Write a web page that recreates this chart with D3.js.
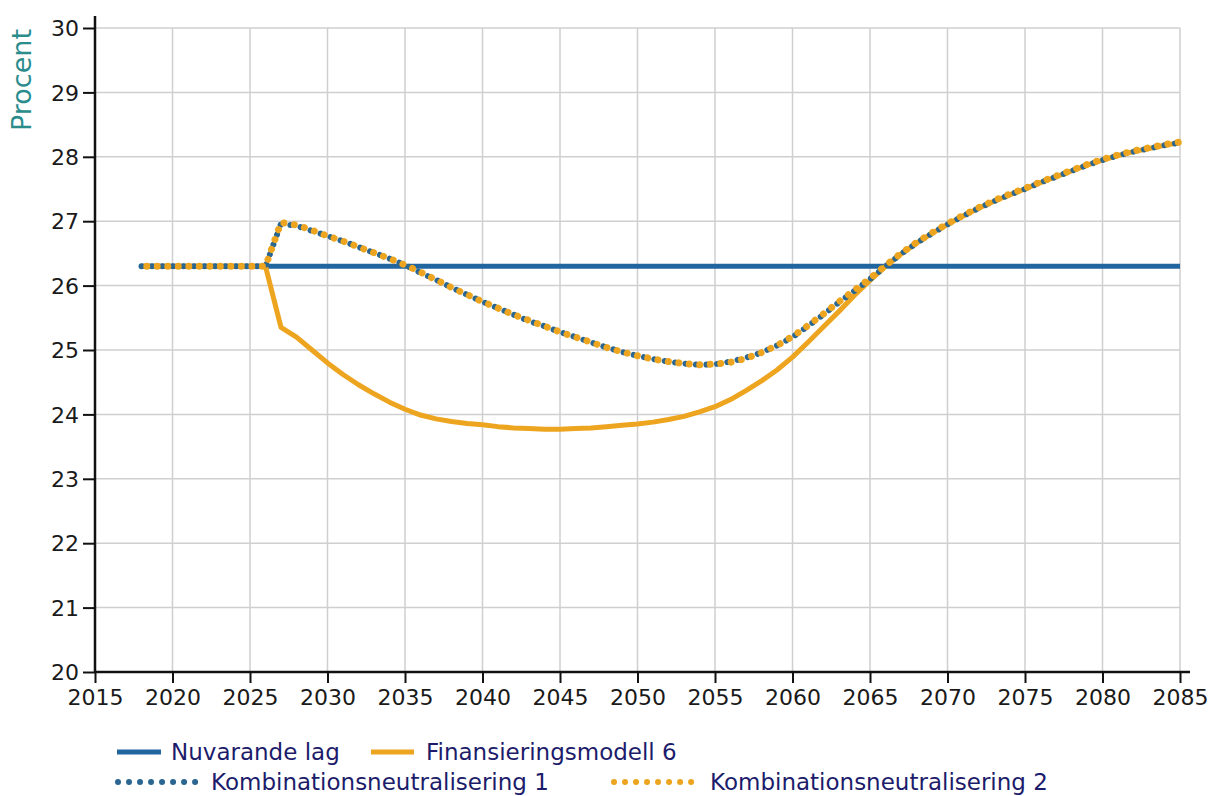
<!DOCTYPE html>
<html>
<head>
<meta charset="utf-8">
<script src="https://cdn.jsdelivr.net/npm/d3@7"></script>
<style>
  html, body { margin: 0; padding: 0; background: #fff; }
  svg { display: block; font-family: Verdana, "DejaVu Sans", sans-serif; }
</style>
</head>
<body>
<svg id="chart" width="1210" height="796"></svg>
<script>
const years = [2018,2019,2020,2021,2022,2023,2024,2025,2026,2027,2028,2029,2030,2031,2032,2033,2034,2035,2036,2037,2038,2039,2040,2041,2042,2043,2044,2045,2046,2047,2048,2049,2050,2051,2052,2053,2054,2055,2056,2057,2058,2059,2060,2061,2062,2063,2064,2065,2066,2067,2068,2069,2070,2071,2072,2073,2074,2075,2076,2077,2078,2079,2080,2081,2082,2083,2084,2085];

const nuvarandeLag = [26.3,26.3,26.3,26.3,26.3,26.3,26.3,26.3,26.3,26.3,26.3,26.3,26.3,26.3,26.3,26.3,26.3,26.3,26.3,26.3,26.3,26.3,26.3,26.3,26.3,26.3,26.3,26.3,26.3,26.3,26.3,26.3,26.3,26.3,26.3,26.3,26.3,26.3,26.3,26.3,26.3,26.3,26.3,26.3,26.3,26.3,26.3,26.3,26.3,26.3,26.3,26.3,26.3,26.3,26.3,26.3,26.3,26.3,26.3,26.3,26.3,26.3,26.3,26.3,26.3,26.3,26.3,26.3];

const finansieringsmodell6 = [26.3,26.3,26.3,26.3,26.3,26.3,26.3,26.3,26.3,25.35,25.20,25.00,24.80,24.62,24.46,24.32,24.19,24.08,23.99,23.93,23.89,23.86,23.84,23.81,23.79,23.78,23.77,23.77,23.78,23.79,23.81,23.83,23.85,23.88,23.92,23.97,24.04,24.12,24.23,24.37,24.52,24.69,24.89,25.12,25.36,25.60,25.85,26.08,26.30,26.49,26.66,26.81,26.95,27.08,27.20,27.31,27.41,27.50,27.60,27.69,27.78,27.87,27.95,28.02,28.08,28.13,28.18,28.22];

const kombination1 = [26.3,26.3,26.3,26.3,26.3,26.3,26.3,26.3,26.3,26.96,26.93,26.85,26.77,26.69,26.60,26.51,26.42,26.32,26.20,26.09,25.97,25.86,25.75,25.65,25.55,25.45,25.37,25.28,25.20,25.12,25.04,24.97,24.91,24.86,24.82,24.79,24.77,24.78,24.82,24.88,24.96,25.07,25.20,25.37,25.55,25.74,25.92,26.10,26.30,26.49,26.66,26.81,26.95,27.08,27.20,27.31,27.41,27.50,27.60,27.69,27.78,27.87,27.95,28.02,28.08,28.13,28.18,28.22];

const kombination2 = [26.3,26.3,26.3,26.3,26.3,26.3,26.3,26.3,26.3,26.98,26.94,26.86,26.77,26.69,26.60,26.51,26.42,26.32,26.21,26.09,25.97,25.86,25.75,25.65,25.55,25.46,25.37,25.28,25.20,25.12,25.04,24.97,24.91,24.86,24.82,24.79,24.77,24.78,24.81,24.87,24.96,25.07,25.21,25.38,25.56,25.75,25.93,26.11,26.31,26.50,26.67,26.82,26.96,27.09,27.21,27.32,27.42,27.51,27.61,27.70,27.79,27.88,27.96,28.03,28.09,28.14,28.19,28.23];

const xTicks = [2015,2020,2025,2030,2035,2040,2045,2050,2055,2060,2065,2070,2075,2080,2085];
const yTicks = [20,21,22,23,24,25,26,27,28,29,30];

const seriesNames = ["Nuvarande lag","Finansieringsmodell 6","Kombinationsneutralisering 1","Kombinationsneutralisering 2"];

const svg = d3.select("#chart");
const x = d3.scaleLinear().domain([2015, 2085]).range([95, 1180]);
const y = d3.scaleLinear().domain([20, 30]).range([672, 28]);

const BLUE = "#2266a0", BLUE_DOT = "#2a6690", ORANGE = "#eda41e";

// grid
const grid = svg.append("g");
grid.selectAll("line.v").data(xTicks.filter(d => d > 2015)).join("line")
  .attr("x1", d => x(d)).attr("x2", d => x(d)).attr("y1", y(30)).attr("y2", y(20))
  .attr("stroke", "#cfcfcf").attr("stroke-width", 1.5);
grid.selectAll("line.h").data(yTicks.filter(d => d > 20)).join("line")
  .attr("x1", x(2015)).attr("x2", x(2085)).attr("y1", d => y(d)).attr("y2", d => y(d))
  .attr("stroke", "#cfcfcf").attr("stroke-width", 1.5);

// axes
const xAxis = d3.axisBottom(x).tickValues(xTicks).tickFormat(d3.format("d")).tickSize(11).tickPadding(6);
const yAxis = d3.axisLeft(y).tickValues(yTicks).tickSize(12).tickPadding(4);

const gx = svg.append("g").attr("transform", `translate(0,${y(20)})`).call(xAxis);
const gy = svg.append("g").attr("transform", `translate(${x(2015)},0)`).call(yAxis);
[gx, gy].forEach(g => {
  g.select(".domain").remove();
  g.selectAll(".tick line").attr("stroke", "#111").attr("stroke-width", 2);
  g.selectAll(".tick text").attr("fill", "#1a1a1a").style("font-size", "22px").style("font-family", "Verdana, 'DejaVu Sans', sans-serif");
});
gy.selectAll(".tick text").attr("dy", "0.35em");
// axis lines
svg.append("line").attr("x1", x(2015)).attr("x2", x(2085) + 10).attr("y1", y(20)).attr("y2", y(20))
  .attr("stroke", "#111").attr("stroke-width", 2.5);
svg.append("line").attr("x1", x(2015)).attr("x2", x(2015)).attr("y1", y(30) - 12).attr("y2", y(20))
  .attr("stroke", "#111").attr("stroke-width", 2.5);

// y label
svg.append("text").attr("transform", `translate(31,80) rotate(-90)`).attr("text-anchor", "middle")
  .attr("fill", "#2b8c8c").style("font-size", "27px").text("Procent");

// lines
const line = d3.line().x((d, i) => x(years[i])).y(d => y(d));
const plot = svg.append("g");
plot.append("path").datum(nuvarandeLag).attr("d", line)
  .attr("fill", "none").attr("stroke", BLUE).attr("stroke-width", 5);
plot.append("path").datum(finansieringsmodell6).attr("d", line)
  .attr("fill", "none").attr("stroke", ORANGE).attr("stroke-width", 5).attr("stroke-linejoin", "round");
plot.append("path").datum(kombination1).attr("d", line)
  .attr("fill", "none").attr("stroke", BLUE_DOT).attr("stroke-width", 6)
  .attr("stroke-linecap", "round").attr("stroke-dasharray", "0.01 10.5");
plot.append("path").datum(kombination2).attr("d", line)
  .attr("fill", "none").attr("stroke", ORANGE).attr("stroke-width", 7)
  .attr("stroke-linecap", "round").attr("stroke-dasharray", "0.01 10.5").attr("stroke-dashoffset", 5.25);

// legend
const legendItems = [
  {name: seriesNames[0], color: BLUE, dotted: false, lx: 117, len: 44, tx: 171, ly: 752},
  {name: seriesNames[1], color: ORANGE, dotted: false, lx: 371, len: 43, tx: 426, ly: 752},
  {name: seriesNames[2], color: BLUE_DOT, dotted: true, lx: 118, len: 88, tx: 211, ly: 782},
  {name: seriesNames[3], color: ORANGE, dotted: true, lx: 614, len: 85, tx: 710, ly: 782}
];
const lg = svg.append("g");
legendItems.forEach(it => {
  const l = lg.append("line").attr("x1", it.lx).attr("x2", it.lx + it.len).attr("y1", it.ly).attr("y2", it.ly)
    .attr("stroke", it.color).attr("stroke-width", it.dotted ? 6 : 5);
  if (it.dotted) l.attr("stroke-linecap", "round").attr("stroke-dasharray", "0.01 11");
  lg.append("text").attr("x", it.tx).attr("y", it.ly + 8).attr("fill", "#1c1c6b")
    .style("font-size", "23px").text(it.name);
});
</script>
</body>
</html>
